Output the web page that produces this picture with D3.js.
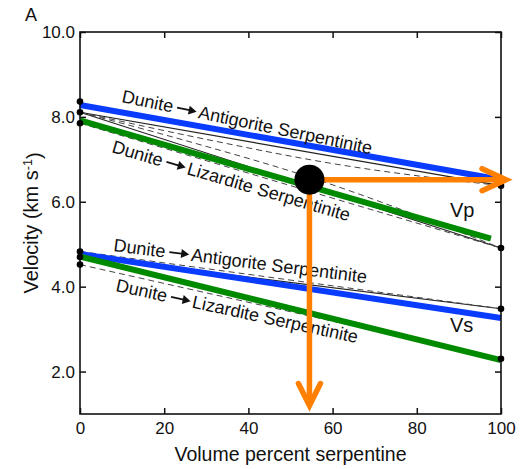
<!DOCTYPE html>
<html><head><meta charset="utf-8">
<script src="https://cdn.jsdelivr.net/npm/d3@7"></script>
<style>
body{margin:0;background:#fff}
text{font-family:"Liberation Sans",Arial,Helvetica,sans-serif;fill:#111}
</style>
</head><body>
<svg id="c" width="525" height="469"></svg>
<script>
// ---- data ----
const xTicks = [0, 20, 40, 60, 80, 100];
const yTicks = [2, 4, 6, 8, 10];
const xTitle = "Volume percent serpentine";
const panelLabel = "A";

// thick model lines [serpentine %, velocity km/s]
const vpAntigorite = [[0, 8.28], [100, 6.52]];
const vpLizardite  = [[0, 7.92], [97.6, 5.13]];
const vsAntigorite = [[0, 4.77], [100, 3.26]];
const vsLizardite  = [[0, 4.71], [100, 2.27]];

// thin bound lines
const vpBoundsSolid = [
  [[0, 8.11], [100, 6.38]],
  [[0, 8.11], [100, 4.91]]
];
const vpBoundsDashed = [
  [[0, 8.11], [30, 7.47], [60, 6.90], [100, 6.38]],
  [[0, 8.11], [28, 7.36], [52, 6.66], [100, 4.91]],
  [[0, 7.85], [100, 4.91]]
];
const vsBoundsSolid = [
  [[0, 4.72], [100, 3.48]]
];
const vsBoundsDashed = [
  [[0, 4.83], [100, 3.48]],
  [[0, 4.52], [100, 2.30]]
];

// end-member dots
const leftDots  = [8.36, 8.11, 7.85, 4.83, 4.70, 4.52];
const rightDots = [6.38, 4.91, 3.48, 2.30];

// highlighted sample and read-off arrows
const sampleSerp = 54.5, sampleVp = 6.52;
const arrowRightTo = 101.2, arrowDownTo = 1.2;

const labelFrom = "Dunite";
const labelTargets = ["Antigorite Serpentinite", "Lizardite Serpentinite", "Antigorite Serpentinite", "Lizardite Serpentinite"];
const waveLabels = ["Vp", "Vs"];

// ---- drawing ----
const svg = d3.select("#c");
const x = d3.scaleLinear().domain([0, 100]).range([80, 501]);
const y = d3.scaleLinear().domain([1, 10]).range([414, 32]);
const line = d3.line().x(d => x(d[0])).y(d => y(d[1])).curve(d3.curveMonotoneX);

const BLUE = "#0a3cff", GREEN = "#008a00", ORANGE = "#ff7f00";

// axes
const fs = "17px";
const gB = svg.append("g").attr("transform", `translate(0,${y(1)})`)
  .call(d3.axisBottom(x).tickValues(xTicks).tickSizeInner(-6).tickSizeOuter(0).tickPadding(8));
const gL = svg.append("g").attr("transform", `translate(${x(0)},0)`)
  .call(d3.axisLeft(y).tickValues(yTicks).tickFormat(d3.format(".1f")).tickSizeInner(-6).tickSizeOuter(0).tickPadding(5));
const gT = svg.append("g").attr("transform", `translate(0,${y(10)})`)
  .call(d3.axisTop(x).tickValues(xTicks).tickFormat("").tickSizeInner(-6).tickSizeOuter(0));
const gR = svg.append("g").attr("transform", `translate(${x(100)},0)`)
  .call(d3.axisRight(y).tickValues(yTicks).tickFormat("").tickSizeInner(-6).tickSizeOuter(0));
[gB, gL, gT, gR].forEach(g => {
  g.select(".domain").remove();
  g.selectAll("line").attr("stroke", "#111").attr("stroke-width", 1.5);
  g.selectAll("text").style("font-size", fs).attr("fill", "#111")
    .style("font-family", '"Liberation Sans",Arial,sans-serif');
});

// thin bounds
const thin = svg.append("g").attr("fill", "none").attr("stroke", "#222");
[...vpBoundsSolid, ...vsBoundsSolid].forEach(d =>
  thin.append("path").attr("d", line(d)).attr("stroke-width", 1.1));
[...vpBoundsDashed, ...vsBoundsDashed].forEach(d =>
  thin.append("path").attr("d", line(d)).attr("stroke-width", 1).attr("stroke-dasharray", "6,4").attr("stroke", "#444"));

// thick lines
const thick = svg.append("g").attr("fill", "none").attr("stroke-width", 6);
thick.append("path").attr("d", line(vpAntigorite)).attr("stroke", BLUE);
thick.append("path").attr("d", line(vpLizardite)).attr("stroke", GREEN);
thick.append("path").attr("d", line(vsAntigorite)).attr("stroke", BLUE);
thick.append("path").attr("d", line(vsLizardite)).attr("stroke", GREEN);

// frame
svg.append("rect").attr("x", x(0)).attr("y", y(10))
  .attr("width", x(100) - x(0)).attr("height", y(1) - y(10))
  .attr("fill", "none").attr("stroke", "#111").attr("stroke-width", 1.6);

// dots
svg.append("g").selectAll("circle").data(leftDots).join("circle")
  .attr("cx", x(0)).attr("cy", d => y(d)).attr("r", 3.3).attr("fill", "#000");
svg.append("g").selectAll("circle").data(rightDots).join("circle")
  .attr("cx", x(100)).attr("cy", d => y(d)).attr("r", 3.3).attr("fill", "#000");

// labels along lines
const lfs = "18px";
function dunLabel(px, py, ang, target) {
  const g = svg.append("g").attr("transform", `translate(${px},${py}) rotate(${ang})`);
  const t1 = g.append("text").text(labelFrom).style("font-size", lfs);
  const w = t1.node().getComputedTextLength();
  const a0 = w + 4, a1 = a0 + 20;
  g.append("line").attr("x1", a0).attr("x2", a1 - 6).attr("y1", -6).attr("y2", -6)
    .attr("stroke", "#111").attr("stroke-width", 1.8);
  g.append("path").attr("d", `M${a1 - 8},-10.5 L${a1},-6 L${a1 - 8},-1.5 Z`).attr("fill", "#111");
  g.append("text").attr("x", a1 + 2).text(target).style("font-size", lfs);
}
dunLabel(121, 102, 11.8, labelTargets[0]);
dunLabel(111, 152, 16.3, labelTargets[1]);
dunLabel(113, 251, 7.2, labelTargets[2]);
dunLabel(115, 291, 12.2, labelTargets[3]);

// wave labels
svg.append("text").attr("x", 450).attr("y", 217).text(waveLabels[0]).style("font-size", "20px");
svg.append("text").attr("x", 450).attr("y", 332).text(waveLabels[1]).style("font-size", "20px");

// orange arrows
const ar = svg.append("g").attr("stroke", ORANGE).attr("fill", "none").attr("stroke-width", 5.5);
const sx = x(sampleSerp), sy = y(sampleVp);
const tipX = x(arrowRightTo), tipY = y(arrowDownTo);
ar.append("line").attr("x1", sx).attr("y1", sy).attr("x2", tipX - 2).attr("y2", sy);
ar.append("polyline").attr("points", `${tipX - 24},${sy - 11} ${tipX},${sy} ${tipX - 24},${sy + 11}`)
  .attr("stroke-linecap", "round");
ar.append("line").attr("x1", sx).attr("y1", sy).attr("x2", sx).attr("y2", tipY - 2);
ar.append("polyline").attr("points", `${sx - 11},${tipY - 22} ${sx},${tipY} ${sx + 11},${tipY - 22}`)
  .attr("stroke-linecap", "round");
svg.append("circle").attr("cx", sx).attr("cy", sy).attr("r", 15).attr("fill", "#000");

// titles
svg.append("text").attr("x", (x(0) + x(100)) / 2).attr("y", 461).attr("text-anchor", "middle")
  .text(xTitle).style("font-size", "19.5px");
const yt = svg.append("text").attr("transform", `translate(38,${(y(1) + y(10)) / 2}) rotate(-90)`)
  .attr("text-anchor", "middle").style("font-size", "20px");
yt.append("tspan").text("Velocity (km s");
yt.append("tspan").text("-1").attr("dy", "-0.45em").style("font-size", "12.5px");
yt.append("tspan").text(")").attr("dy", "0.45em");
svg.append("text").attr("x", 25).attr("y", 21).text(panelLabel).style("font-size", "18px");
</script>
</body></html>
